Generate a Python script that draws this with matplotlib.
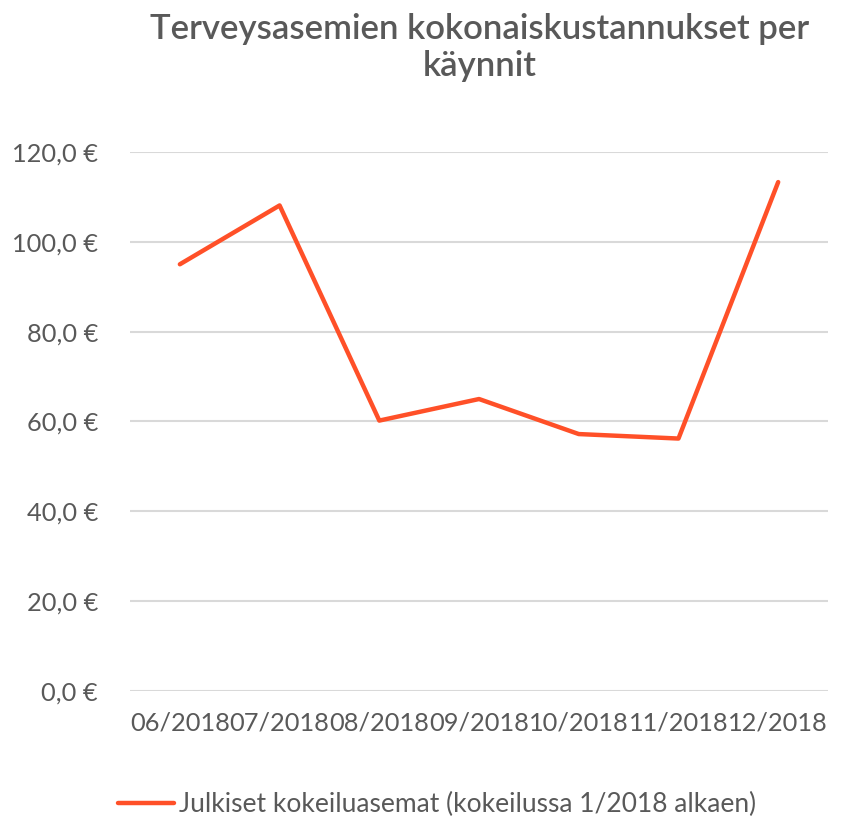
import matplotlib
matplotlib.use("Agg")
import matplotlib.pyplot as plt
from matplotlib.ticker import FuncFormatter

# Data
months = ["06/2018", "07/2018", "08/2018", "09/2018", "10/2018", "11/2018", "12/2018"]
costs = [95.0, 108.1, 60.2, 65.0, 57.2, 56.2, 113.3]
series_name = "Julkiset kokeiluasemat (kokeilussa 1/2018 alkaen)"

TEXT = "#595959"
LINE = "#FF5028"

plt.rcParams["font.family"] = ["Lato", "DejaVu Sans"]

fig = plt.figure(figsize=(8.41, 8.22), dpi=100)
ax = fig.add_axes([0.1546, 0.1594, 0.830, 0.6557])

x = list(range(len(months)))
ax.plot(x, costs, color=LINE, linewidth=3.2, solid_capstyle="round",
        solid_joinstyle="round", label=series_name)

ax.set_xlim(-0.5, len(months) - 0.5)
ax.set_ylim(0, 120)
ax.set_yticks(range(0, 121, 20))
ax.yaxis.set_major_formatter(FuncFormatter(lambda v, p: f"{v:.1f}".replace(".", ",") + " €"))
ax.set_xticks(x)
ax.set_xticklabels(months)

ax.grid(axis="y", color="#D9D9D9", linewidth=1.5)
ax.set_axisbelow(True)
for s in ax.spines.values():
    s.set_visible(False)
ax.tick_params(axis="both", length=0, labelsize=18.3, colors=TEXT)
ax.tick_params(axis="y", pad=23)
ax.tick_params(axis="x", pad=15)

fig.suptitle("Terveysasemien kokonaiskustannukset per\nkäynnit", x=0.57, y=0.984,
             fontsize=25, color=TEXT, fontweight="semibold", linespacing=1.2)

fig.legend(loc="center", bbox_to_anchor=(0.52, 0.021), frameon=False,
           fontsize=19, labelcolor=TEXT, handlelength=2.1, handletextpad=0.2,
           borderpad=0.1)

fig.savefig("out.png", dpi=100)
